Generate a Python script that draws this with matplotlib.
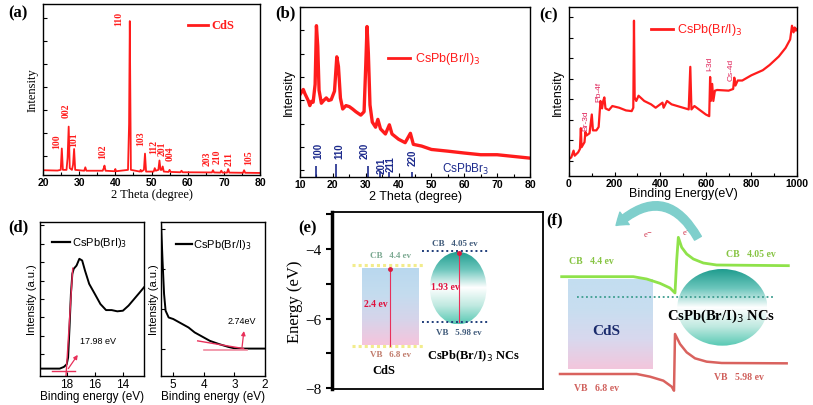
import numpy as np
import matplotlib.pyplot as plt
from matplotlib.patches import Ellipse, FancyArrowPatch
from matplotlib.colors import LinearSegmentedColormap

# ---------------- data ----------------
# (a) CdS XRD: (2theta, intensity fraction)
cds_xrd = [(20, 0.028), (24.0, 0.026), (24.9, 0.03), (25.2, 0.155), (25.5, 0.03),
           (26.5, 0.03), (26.8, 0.10), (27.1, 0.283), (27.4, 0.04), (28.0, 0.03),
           (28.3, 0.06), (28.6, 0.152), (28.9, 0.03), (31.4, 0.025), (31.7, 0.045),
           (32.0, 0.025), (36.5, 0.025), (36.8, 0.04), (37.0, 0.055), (37.3, 0.025),
           (39.8, 0.022), (40.0, 0.035), (40.2, 0.022), (43.5, 0.03), (43.8, 0.30),
           (44.0, 0.90), (44.3, 0.03), (46.8, 0.02), (47.0, 0.03), (47.2, 0.02),
           (47.9, 0.03), (48.2, 0.125), (48.5, 0.02), (50.6, 0.02), (50.9, 0.04),
           (51.2, 0.025), (51.9, 0.03), (52.2, 0.085), (52.5, 0.03), (52.8, 0.03),
           (53.1, 0.05), (53.4, 0.02), (54.7, 0.018), (55.0, 0.03), (55.3, 0.018),
           (58.0, 0.016), (58.3, 0.025), (58.6, 0.016), (66.7, 0.015), (67.0, 0.028),
           (67.3, 0.015), (69.0, 0.014), (69.3, 0.025), (69.6, 0.014), (70.9, 0.014),
           (71.2, 0.035), (71.5, 0.014), (75.3, 0.013), (75.6, 0.028), (75.9, 0.013),
           (80, 0.012)]
hkl_a = ['100', '002', '101', '102', '110', '103', '112', '201', '004', '203', '210', '211', '105']
hkl_a_x = [23.9, 26.3, 28.6, 36.6, 40.9, 47.1, 50.7, 52.8, 55.1, 65.3, 68.2, 71.5, 76.8]
hkl_a_y = [0.20, 0.38, 0.21, 0.14, 0.92, 0.22, 0.17, 0.16, 0.13, 0.10, 0.115, 0.10, 0.11]

# (b) CsPb(Br/I)3 XRD
csp_xrd = [(10, 0.485), (10.5, 0.50), (11, 0.515), (11.5, 0.49), (12, 0.47), (12.5, 0.45),
           (13, 0.42), (13.5, 0.445), (14, 0.44), (14.6, 0.545), (15.0, 0.89), (15.4, 0.77),
           (15.8, 0.51), (16.5, 0.434), (17.2, 0.45), (18, 0.465), (18.7, 0.45), (19.5, 0.455),
           (20.5, 0.505), (21.2, 0.707), (21.7, 0.65), (22.3, 0.465), (23, 0.40), (24, 0.42),
           (25, 0.414), (26, 0.40), (27, 0.384), (28.5, 0.364), (29.5, 0.384), (30.0, 0.65),
           (30.4, 0.885), (30.8, 0.73), (31.3, 0.424), (32, 0.323), (33, 0.293), (33.7, 0.339),
           (34.5, 0.283), (36, 0.253), (37.2, 0.307), (38, 0.253), (40, 0.222), (42, 0.202),
           (43.6, 0.257), (44.5, 0.192), (47, 0.182), (50, 0.162), (55, 0.152), (60, 0.141),
           (65, 0.131), (70, 0.131), (75, 0.121), (80, 0.111)]
ref_b_x = [15.0, 21.0, 30.8, 34.3, 37.2, 44.0]
ref_b_h = [0.067, 0.077, 0.067, 0.03, 0.03, 0.03]
hkl_b = ['100', '110', '200', '201', '211', '220']
hkl_b_x = [15.6, 22.0, 29.6, 34.7, 37.7, 44.3]
hkl_b_y = [0.16, 0.16, 0.16, 0.07, 0.08, 0.12]

# (c) XPS survey
xps = [(0, 0.101), (10, 0.11), (20, 0.15), (25, 0.12), (40, 0.14), (48, 0.16), (52, 0.283),
       (55, 0.17), (68, 0.20), (72, 0.26), (77, 0.24), (90, 0.253), (100, 0.364), (105, 0.27),
       (120, 0.27), (130, 0.29), (138, 0.444), (145, 0.40), (150, 0.444), (155, 0.465),
       (160, 0.40), (175, 0.39), (190, 0.414), (220, 0.404), (250, 0.388), (275, 0.384),
       (282, 0.404), (285, 0.919), (288, 0.465), (295, 0.444), (305, 0.475), (330, 0.444),
       (360, 0.424), (380, 0.404), (410, 0.434), (415, 0.404), (430, 0.444), (450, 0.424),
       (500, 0.404), (525, 0.394), (532, 0.646), (537, 0.394), (550, 0.414), (600, 0.364),
       (615, 0.354), (619, 0.586), (622, 0.444), (628, 0.545), (633, 0.444), (640, 0.505),
       (650, 0.509), (700, 0.505), (720, 0.515), (725, 0.582), (730, 0.535), (740, 0.565),
       (760, 0.565), (800, 0.596), (850, 0.626), (880, 0.657), (920, 0.707), (950, 0.758),
       (970, 0.808), (978, 0.889), (985, 0.85), (990, 0.879), (995, 0.86), (1000, 0.87)]
xps_lab = ['Br-3d', 'Pb-4f', 'I-3d', 'Cs-4d']
xps_lab_x = [73, 132, 616, 713]
xps_lab_y = [0.333, 0.505, 0.667, 0.636]

# (d) UPS
ups_left = [(19.9, 0.048), (18.5, 0.048), (18.2, 0.059), (18.0, 0.076), (17.9, 0.12),
            (17.8, 0.315), (17.7, 0.533), (17.6, 0.663), (17.5, 0.696), (17.3, 0.717),
            (17.1, 0.761), (16.9, 0.75), (16.7, 0.685), (16.4, 0.598), (16.0, 0.533),
            (15.6, 0.467), (15.2, 0.428), (14.8, 0.428), (14.4, 0.42), (14.0, 0.424),
            (13.6, 0.457), (13.2, 0.50), (12.8, 0.543), (12.5, 0.576)]
ups_right = [(5.4, 1.0), (5.35, 0.75), (5.3, 0.533), (5.25, 0.424), (5.15, 0.38),
             (5.0, 0.37), (4.8, 0.348), (4.6, 0.326), (4.5, 0.315), (4.3, 0.283),
             (4.0, 0.25), (3.8, 0.228), (3.5, 0.207), (3.2, 0.189), (3.0, 0.18),
             (2.7, 0.178), (2.4, 0.178), (2.0, 0.178)]

# (e) band levels (eV)
cds_cb, cds_vb = -4.45, -6.8
nc_cb, nc_vb = -4.05, -6.1

# (f) band bending sketch, in picture units
cb_f = [(65, 248), (280, 248), (320, 255), (360, 268), (390, 282), (405, 297), (410, 200),
        (415, 130), (425, 160), (440, 180), (460, 195), (490, 207), (530, 213), (745, 215)]
vb_f = [(60, 540), (290, 540), (330, 548), (370, 560), (395, 578), (402, 590), (405, 420),
        (420, 450), (440, 475), (465, 493), (500, 503), (545, 507), (740, 508)]

RED = '#ff1c1c'
NAVY = '#1c2a8c'
PINK = '#e0245a'
SERIF = 'Liberation Serif'
W, H = 813, 406

fig = plt.figure(figsize=(W / 100, H / 100), dpi=100)


def box(l, t, r, b):
    return fig.add_axes([l / W, 1 - b / H, (r - l) / W, (b - t) / H])


def style(ax, weight='bold', size=7.5):
    ax.tick_params(which='both', direction='in', length=3, width=0.8, pad=1.5)
    ax.tick_params(which='minor', length=2)
    ax.set_yticklabels([])
    for t in ax.get_xticklabels():
        t.set_fontfamily('Liberation Sans')
        t.set_fontweight(weight)
        t.set_fontsize(size)
    for s in ax.spines.values():
        s.set_linewidth(1.0)


# ---------------- (a) ----------------
ax = box(43, 5, 260, 176)
x, y = np.array(cds_xrd).T
ax.plot(x, y, color=RED, lw=1.3)
ax.set_xlim(20, 80)
ax.set_ylim(0, 1)
ax.set_xticks(range(20, 81, 10))
ax.set_xticks(range(25, 80, 10), minor=True)
ax.set_yticks(np.arange(0.113, 0.95, 0.134))
style(ax)
ax.set_xlabel('2 Theta (degree)', family=SERIF, fontsize=9, labelpad=1)
ax.set_ylabel('Intensity', family=SERIF, fontsize=9, labelpad=2)
for s, xx, yy in zip(hkl_a, hkl_a_x, hkl_a_y):
    ax.text(xx, yy, s, rotation=90, color=RED, family=SERIF, weight='bold',
            fontsize=7, ha='center', va='center')
ax.plot([60.2, 65.7], [0.88, 0.88], color=RED, lw=2)
ax.text(66.5, 0.88, 'CdS', color=RED, family=SERIF, weight='bold', fontsize=9, va='center')

# ---------------- (b) ----------------
ax = box(300, 8, 530, 178)
x, y = np.array(csp_xrd).T
ax.plot(x, y, color=RED, lw=2.4)
ax.vlines(ref_b_x, 0, ref_b_h, color=NAVY, lw=1.2)
for s, xx, yy in zip(hkl_b, hkl_b_x, hkl_b_y):
    ax.text(xx, yy, s, rotation=90, color=NAVY, family='Liberation Sans', weight='bold',
            fontsize=7, ha='center', va='center')
ax.text(53.1, 0.05, r'CsPbBr$_3$', color=NAVY, family='Liberation Sans', fontsize=8.5,
        va='center')
ax.set_xlim(10, 80)
ax.set_ylim(0, 1)
ax.set_xticks(range(10, 81, 10))
ax.set_xticks(range(15, 80, 10), minor=True)
ax.set_yticks(np.arange(0.04, 1.0, 0.137))
style(ax)
ax.set_xlabel('2 Theta (degree)', family='Liberation Sans', fontsize=9, labelpad=1)
ax.set_ylabel('Intensity', family='Liberation Sans', fontsize=9, labelpad=2)
ax.plot([36.9, 43.5], [0.70, 0.70], color=RED, lw=2)
ax.text(45, 0.70, r'CsPb(Br/I)$_3$', color=RED, family='Liberation Sans', fontsize=9,
        va='center')

# ---------------- (c) ----------------
ax = box(569, 8, 797, 177)
x, y = np.array(xps).T
ax.plot(x, y, color=RED, lw=1.6)
for s, xx, yy in zip(xps_lab, xps_lab_x, xps_lab_y):
    ax.text(xx, yy, s, rotation=90, color=PINK, family='Liberation Sans',
            fontsize=6, ha='center', va='center')
ax.set_xlim(0, 1000)
ax.set_ylim(0, 1)
ax.set_xticks(range(0, 1001, 200))
ax.set_xticks(range(100, 1000, 200), minor=True)
ax.set_yticks(np.arange(0.091, 0.95, 0.1212))
style(ax)
ax.set_xlabel('Binding Energy(eV)', family='Liberation Sans', fontsize=9, labelpad=-1)
ax.set_ylabel('Intensity', family='Liberation Sans', fontsize=9, labelpad=2)
ax.plot([359, 457], [0.868, 0.868], color=RED, lw=2)
ax.text(472, 0.868, r'CsPb(Br/I)$_3$', color=RED, family='Liberation Sans', fontsize=9,
        va='center')

# ---------------- (d) ----------------
ax = box(40, 223, 144, 377)
x, y = np.array(ups_left).T
ax.plot(x, y, color='black', lw=1.4)
ax.plot([19.07, 17.4], [0.033, 0.033], color='#e8305a', lw=1)
ax.plot([18.05, 17.57], [0.0, 0.70], color='#e8305a', lw=1)
ax.annotate('', xy=(17.1, 0.152), xytext=(18.0, 0.033),
            arrowprops=dict(arrowstyle='-|>', color='#e8305a', lw=0.9, mutation_scale=6))
ax.text(17.05, 0.228, '17.98 eV', family='Liberation Sans', fontsize=6.5, va='center')
ax.plot([19.07, 17.76], [0.87, 0.87], color='black', lw=1.6)
ax.text(17.64, 0.87, r'CsPb(BrI)$_3$', family='Liberation Sans', fontsize=8, va='center')
ax.set_xlim(19.9, 12.5)
ax.set_ylim(0, 1)
ax.set_xticks([18, 16, 14])
ax.set_yticks(np.arange(0.141, 1.0, 0.1196))
style(ax, weight='normal', size=8.5)
ax.set_xlabel('Binding energy (eV)', family='Liberation Sans', fontsize=8.5, labelpad=0)
ax.set_ylabel('Intensity (a.u.)', family='Liberation Sans', fontsize=8, labelpad=1)

ax = box(161, 223, 265, 377)
x, y = np.array(ups_right).T
ax.plot(x, y, color='black', lw=1.4)
ax.plot([4.2, 2.7], [0.228, 0.178], color='#e8305a', lw=1)
ax.plot([4.0, 2.6], [0.17, 0.17], color='#f08aa0', lw=1.2)
ax.annotate('', xy=(2.68, 0.31), xytext=(2.76, 0.17),
            arrowprops=dict(arrowstyle='-|>', color='#e8305a', lw=0.9, mutation_scale=6))
ax.text(2.75, 0.36, '2.74eV', family='Liberation Sans', fontsize=6.5, ha='center',
        va='center')
ax.plot([4.92, 4.39], [0.86, 0.86], color='black', lw=1.6)
ax.text(4.34, 0.86, r'CsPb(Br/I)$_3$', family='Liberation Sans', fontsize=8, va='center')
ax.set_xlim(5.4, 2.0)
ax.set_ylim(0, 1)
ax.set_xticks([5, 4, 3, 2])
ax.set_yticks(np.arange(0.174, 1.0, 0.261))
style(ax, weight='normal', size=8.5)
ax.set_xlabel('Binding energy (eV)', family='Liberation Sans', fontsize=8.5, labelpad=0)
ax.set_ylabel('Intensity (a.u.)', family='Liberation Sans', fontsize=8, labelpad=0)

# ---------------- (e) ----------------
grad = np.linspace(0, 1, 256).reshape(-1, 1)
cdscmap = LinearSegmentedColormap.from_list('cds', ['#b9d8ee', '#c4dcef', '#d6d4ea', '#f6c4dc'])
nccmap = LinearSegmentedColormap.from_list('nc', ['#1f9c8e', '#6cc6bc', '#ffffff', '#bfe9e0',
                                                  '#58c9b4'])

ax = box(332, 213, 543, 390)
ax.imshow(grad, cmap=cdscmap, extent=(0.142, 0.409, -6.77, -4.58), origin='upper',
          aspect='auto', zorder=1)
ell = Ellipse((0.598, -5.125), 0.268, 2.09, facecolor='none', edgecolor='none')
ax.add_patch(ell)
im = ax.imshow(grad, cmap=nccmap, extent=(0.464, 0.732, -6.17, -4.08), origin='upper',
               aspect='auto', zorder=1)
im.set_clip_path(ell)
ax.set_xlim(0, 1)
ax.set_ylim(-8.03, -2.93)
for lev in (cds_cb, cds_vb):
    ax.plot([0.094, 0.43], [lev, lev], color='#f2ec8c', lw=2.2, ls=(0, (1, 1)), zorder=2)
for lev in (nc_cb, nc_vb):
    ax.plot([0.425, 0.74], [lev, lev], color='#1f3d7a', lw=1.4, ls=(0, (1, 1.5)), zorder=2)
ax.plot([0.276, 0.276], [cds_vb, cds_cb - 0.12], color='#e8305a', lw=0.8, zorder=3)
ax.plot([0.276], [cds_cb - 0.12], 'o', color='#d81b3c', ms=2.5, zorder=3)
ax.plot([0.603, 0.603], [nc_vb, nc_cb - 0.05], color='#e8305a', lw=0.8, zorder=3)
ax.plot([0.603], [nc_cb - 0.05], 'o', color='#d81b3c', ms=2.5, zorder=3)
ax.text(0.276, cds_cb + 0.18, 'CB   4.4 ev', color='#7aa890', family=SERIF, weight='bold',
        fontsize=6.5, ha='center', va='bottom')
ax.text(0.276, cds_vb - 0.12, 'VB   6.8 ev', color='#c07a6a', family=SERIF, weight='bold',
        fontsize=6.5, ha='center', va='top')
ax.text(0.58, nc_cb + 0.1, 'CB   4.05 ev', color='#3f5a7a', family=SERIF, weight='bold',
        fontsize=6.5, ha='center', va='bottom')
ax.text(0.60, nc_vb - 0.18, 'VB   5.98 ev', color='#3f5a7a', family=SERIF, weight='bold',
        fontsize=6.5, ha='center', va='top')
ax.text(0.209, -5.57, '2.4 ev', color='#e0103c', family=SERIF, weight='bold', fontsize=7,
        ha='center', va='center')
ax.text(0.535, -5.09, '1.93 ev', color='#e0103c', family=SERIF, weight='bold', fontsize=7,
        ha='center', va='center')
ax.text(0.244, -7.48, 'CdS', family=SERIF, weight='bold', fontsize=9, ha='center',
        va='center')
ax.text(0.67, -7.05, r'CsPb(Br/I)$_3$ NCs', family=SERIF, weight='bold', fontsize=9,
        ha='center', va='center')
ax.set_xticks([])
ax.set_yticks([-4, -6, -8])
ax.set_yticks([-3, -5, -7], minor=True)
ax.tick_params(axis='y', which='both', direction='out', length=4, width=1.5)
for t in ax.get_yticklabels():
    t.set_fontfamily(SERIF)
    t.set_fontsize(11)
ax.spines['left'].set_linewidth(2.5)
for k in ('top', 'right', 'bottom'):
    ax.spines[k].set_linestyle((0, (1, 1)))
    ax.spines[k].set_linewidth(1.3)
ax.set_ylabel('Energy (eV)', family=SERIF, fontsize=12, labelpad=2)

# ---------------- (f) ----------------
ax = box(540, 195, 813, 406)
ax.patch.set_alpha(0)
ax.imshow(grad, cmap=LinearSegmentedColormap.from_list('f', ['#c3ddf0', '#c8def0', '#d8d8ee',
                                                             '#f3c6dc']),
          extent=(85, 340, 525, 255), origin='upper', aspect='auto', zorder=1)
ell = Ellipse((547, 340), 270, 230, facecolor='none', edgecolor='none')
ax.add_patch(ell)
im = ax.imshow(grad, cmap=nccmap, extent=(412, 682, 455, 225), origin='upper',
               aspect='auto', zorder=1)
im.set_clip_path(ell)
x, y = np.array(cb_f).T
ax.plot(x, y, color='#8fe24a', lw=2, zorder=3)
x, y = np.array(vb_f).T
ax.plot(x, y, color='#d9625e', lw=1.8, zorder=3)
ax.plot([110, 705], [310, 310], color='#3c9d8f', lw=1.3, ls=(0, (1, 1.5)), zorder=3)
arr = FancyArrowPatch((478, 140), (222, 100), connectionstyle='arc3,rad=0.65',
                      arrowstyle='simple,head_width=1.4,head_length=1.0,tail_width=0.7',
                      mutation_scale=8, color='#7fcfcc', zorder=4)
ax.add_patch(arr)
ax.text(325, 122, r'e$^{-}$', color='#d0304a', family=SERIF, fontsize=6, ha='center',
        va='center')
ax.text(440, 115, r'e$^{-}$', color='#d0304a', family=SERIF, fontsize=6, ha='center',
        va='center')
ax.text(155, 200, 'CB   4.4 ev', color='#86c442', family=SERIF, weight='bold', fontsize=7,
        ha='center', va='center')
ax.text(632, 180, 'CB   4.05 ev', color='#86c442', family=SERIF, weight='bold', fontsize=7,
        ha='center', va='center')
ax.text(170, 580, 'VB   6.8 ev', color='#d0605c', family=SERIF, weight='bold', fontsize=7,
        ha='center', va='center')
ax.text(597, 548, 'VB   5.98 ev', color='#d0605c', family=SERIF, weight='bold', fontsize=7,
        ha='center', va='center')
ax.text(200, 410, 'CdS', color='#1a2a6c', family=SERIF, weight='bold', fontsize=11,
        ha='center', va='center')
ax.text(545, 363, r'CsPb(Br/I)$_3$ NCs', family=SERIF, weight='bold', fontsize=10.5,
        ha='center', va='center', zorder=5)
ax.set_xlim(0, 819)
ax.set_ylim(633, 0)
ax.axis('off')

# ---------------- panel letters ----------------
for lab, px, py in [('(a)', 18, 13), ('(b)', 285, 13), ('(c)', 549, 15), ('(d)', 18, 227),
                    ('(e)', 307, 228), ('(f)', 555, 220)]:
    fig.text(px / W, 1 - py / H, lab, family=SERIF, weight='bold', fontsize=12,
             ha='center', va='center')

fig.savefig('out.png', dpi=100)
